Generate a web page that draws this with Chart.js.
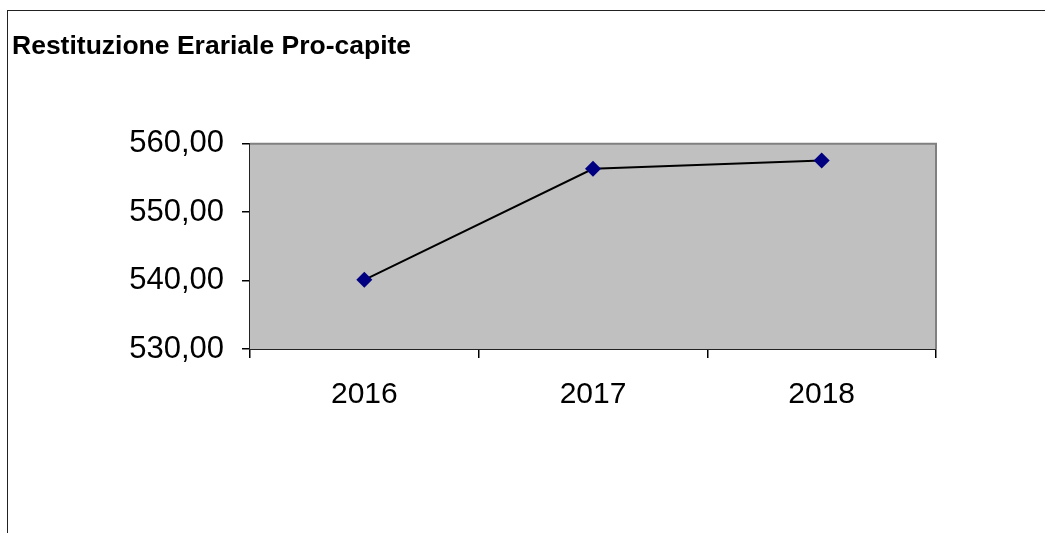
<!DOCTYPE html>
<html>
<head>
<meta charset="utf-8">
<script src="https://cdn.jsdelivr.net/npm/chart.js@4"></script>
<style>
  body { margin: 0; background: #fff; }
  #wrap { position: relative; width: 1045px; height: 533px; overflow: hidden; }
  #frame { position: absolute; left: 7px; top: 10px; width: 1100px; height: 600px;
           border-left: 1.5px solid #222; border-top: 1.5px solid #222; pointer-events: none; }
</style>
</head>
<body>
<div id="wrap">
  <canvas id="myChart" width="1045" height="533"></canvas>
  <div id="frame"></div>
</div>
<script>
const years = ['2016', '2017', '2018'];
const restituzione = [540.11, 556.34, 557.55];
const yTicks = [530, 540, 550, 560];

// gray plot area with a gray top/right border, like the old spreadsheet charts
const plotBg = {
    id: 'plotBg',
    beforeDatasetsDraw(chart) {
        const { ctx, chartArea: a } = chart;
        ctx.save();
        ctx.fillStyle = '#c0c0c0';
        ctx.fillRect(a.left, a.top, a.right - a.left, a.bottom - a.top);
        ctx.strokeStyle = '#808080';
        ctx.lineWidth = 2;
        ctx.beginPath();
        ctx.moveTo(a.left, a.top);
        ctx.lineTo(a.right, a.top);
        ctx.lineTo(a.right, a.bottom);
        ctx.stroke();
        ctx.restore();
    }
};

const ctx = document.getElementById('myChart').getContext('2d');
const chart = new Chart(ctx, {
    type: 'line',
    data: {
        labels: years,
        datasets: [{
            label: 'Restituzione Erariale Pro-capite',
            data: restituzione,
            borderColor: '#000',
            borderWidth: 2,
            pointStyle: 'rectRot',
            pointRadius: 8,
            pointBackgroundColor: '#000080',
            pointBorderColor: '#000080',
            pointBorderWidth: 0,
            tension: 0
        }]
    },
    options: {
        responsive: false,
        animation: false,
        devicePixelRatio: 1,
        layout: {
            padding: { left: 12, right: 109, top: 0, bottom: 0 }
        },
        plugins: {
            legend: { display: false },
            tooltip: { enabled: false },
            title: {
                display: true,
                text: 'Restituzione Erariale Pro-capite',
                align: 'start',
                color: '#000',
                font: { family: 'Liberation Sans, Arial, sans-serif', size: 26.5, weight: 'bold' },
                padding: { top: 31, bottom: 81 }
            }
        },
        scales: {
            x: {
                offset: true,
                grid: {
                    offset: true,
                    drawOnChartArea: false,
                    drawTicks: true,
                    tickLength: 9,
                    color: '#000',
                    lineWidth: 1.5
                },
                border: { display: true, color: '#222', width: 2 },
                ticks: {
                    color: '#000',
                    padding: 19,
                    maxRotation: 0,
                    font: { family: 'Liberation Sans, Arial, sans-serif', size: 30 }
                },
                afterFit(scale) { scale.height = 184; }
            },
            y: {
                min: 530,
                max: 560,
                afterBuildTicks(scale) {
                    scale.ticks = yTicks.map(v => ({ value: v }));
                },
                grid: {
                    drawOnChartArea: false,
                    drawTicks: true,
                    tickLength: 8,
                    color: '#000',
                    lineWidth: 1.5
                },
                border: { display: true, color: '#222', width: 2 },
                ticks: {
                    color: '#000',
                    padding: 18,
                    font: { family: 'Liberation Sans, Arial, sans-serif', size: 31 },
                    callback: v => v.toFixed(2).replace('.', ',')
                },
                afterFit(scale) { scale.width = 238; }
            }
        }
    },
    plugins: [plotBg]
});
</script>
</body>
</html>
